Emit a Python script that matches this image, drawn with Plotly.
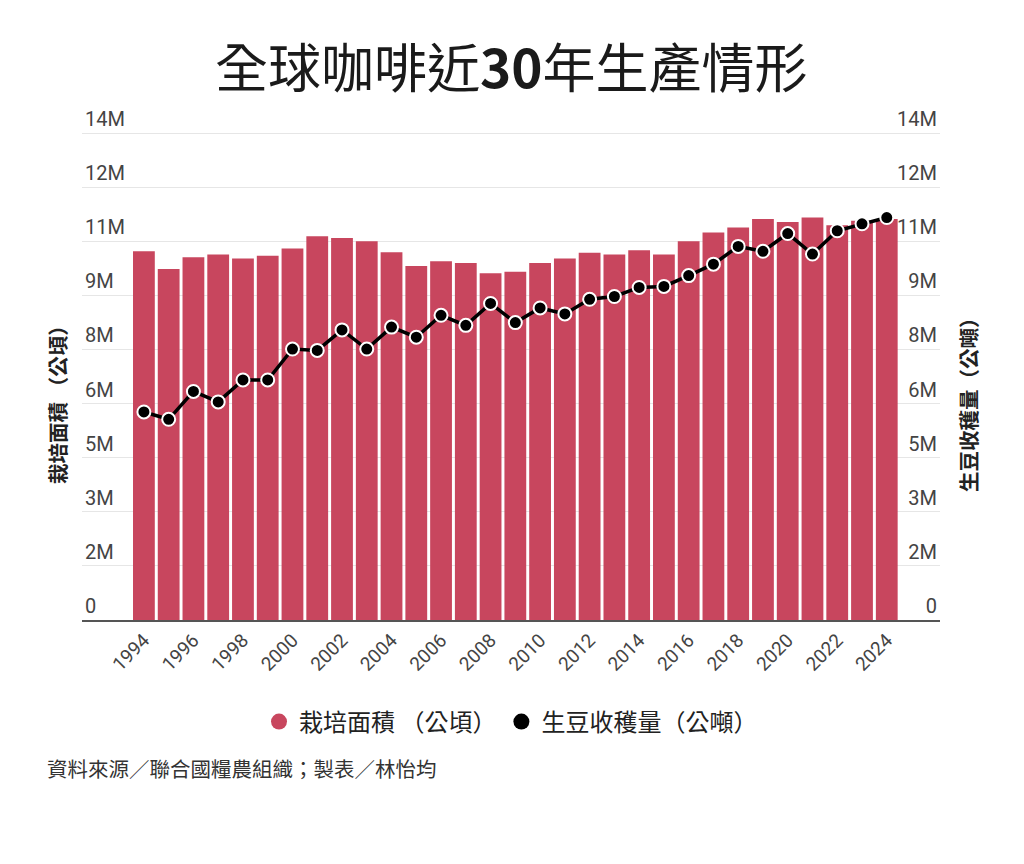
import plotly.graph_objects as go

years = list(range(1994, 2025))
area_ha = [10.60e6, 10.09e6, 10.43e6, 10.51e6, 10.39e6, 10.47e6, 10.68e6, 11.03e6, 10.98e6, 10.89e6,
           10.57e6, 10.18e6, 10.31e6, 10.26e6, 9.97e6, 10.01e6, 10.26e6, 10.39e6, 10.56e6, 10.51e6,
           10.63e6, 10.51e6, 10.89e6, 11.14e6, 11.28e6, 11.53e6, 11.44e6, 11.57e6, 11.35e6, 11.48e6,
           11.53e6]
production_t = [5.98e6, 5.77e6, 6.57e6, 6.27e6, 6.90e6, 6.90e6, 7.79e6, 7.75e6, 8.34e6, 7.79e6,
                8.42e6, 8.13e6, 8.76e6, 8.47e6, 9.10e6, 8.55e6, 8.97e6, 8.80e6, 9.22e6, 9.30e6,
                9.56e6, 9.59e6, 9.90e6, 10.23e6, 10.74e6, 10.60e6, 11.11e6, 10.52e6, 11.19e6, 11.39e6,
                11.57e6]
y_max = 14e6
y_ticktext = ["0", "2M", "3M", "5M", "6M", "8M", "9M", "11M", "12M", "14M"]
x_tickvals = list(range(1994, 2025, 2))

BAR = "#c8465e"
FONT = "Noto Sans CJK TC"
NUMFONT = "Roboto"
tickvals = [y_max * i / 9 for i in range(10)]

# layout geometry (pixels)
W, H = 1024, 864
PLOT_L, PLOT_R = 82, 940
PLOT_TOP, PLOT_BOTTOM = 88, 620
GRID_TOP = 133  # pixel of y_max gridline
PH = PLOT_BOTTOM - PLOT_TOP
PW = PLOT_R - PLOT_L
range_top = y_max * (PLOT_BOTTOM - PLOT_TOP) / (PLOT_BOTTOM - GRID_TOP)


def py(Y):
    return (PLOT_BOTTOM - Y) / PH


def px(X):
    return (X - PLOT_L) / PW


fig = go.Figure()
fig.add_trace(go.Bar(x=years, y=area_ha, marker=dict(color=BAR, line=dict(width=0)),
                     name="栽培面積 （公頃）", showlegend=False))
fig.add_trace(go.Scatter(x=years, y=production_t, yaxis="y2", mode="lines+markers",
                         line=dict(color="#000000", width=3.5),
                         marker=dict(color="#000000", size=13, line=dict(color="white", width=2)),
                         name="生豆收穫量（公噸）", showlegend=False))
# legend entries (circle symbols)
fig.add_trace(go.Scatter(x=[None], y=[None], mode="markers", name="栽培面積 （公頃）",
                         marker=dict(color=BAR, size=30, symbol="circle")))
fig.add_trace(go.Scatter(x=[None], y=[None], mode="markers", name="生豆收穫量（公噸）",
                         marker=dict(color="#000000", size=30, symbol="circle")))

ytick_font = dict(family=NUMFONT, size=20, color="#444444")
xtick_font = dict(family=NUMFONT, size=19, color="#444444")
fig.update_layout(
    width=W, height=H,
    margin=dict(l=PLOT_L, r=W - PLOT_R, t=PLOT_TOP, b=H - PLOT_BOTTOM, autoexpand=False),
    paper_bgcolor="white", plot_bgcolor="white",
    font=dict(family=FONT, color="#222222"),
    bargap=0.12,
    showlegend=True,
    legend=dict(orientation="h", x=0.5, xanchor="center", y=py(722), yanchor="middle",
                font=dict(family=FONT, size=24, color="#222222"), itemsizing="trace",
                traceorder="normal"),
    xaxis=dict(range=[1991.5, 2026.15], tickvals=x_tickvals, tickangle=-45,
               tickfont=xtick_font, showgrid=False, showline=True, linecolor="#555555",
               linewidth=1.5, ticks="", zeroline=False),
    yaxis=dict(range=[0, range_top], tickvals=tickvals, ticktext=y_ticktext,
               ticklabelposition="inside top", tickfont=ytick_font, showgrid=True,
               gridcolor="#e6e6e6", gridwidth=1, zeroline=False, ticks=""),
    yaxis2=dict(range=[0, range_top], tickvals=tickvals, ticktext=y_ticktext, overlaying="y",
                side="right", ticklabelposition="inside top", tickfont=ytick_font,
                showgrid=False, zeroline=False, ticks=""),
    annotations=[
        dict(text="全球咖啡近<b>30</b>年生產情形", xref="paper", yref="paper",
             x=0.5, y=py(65), xanchor="center", yanchor="middle", showarrow=False,
             font=dict(family=FONT, size=53, color="#1a1a1a")),
        dict(text="<b>栽培面積 （公頃）</b>", xref="paper", yref="paper", textangle=-90,
             x=px(57), y=py(400), xanchor="center", yanchor="middle", showarrow=False,
             font=dict(family=FONT, size=20.5, color="#222222")),
        dict(text="<b>生豆收穫量（公噸）</b>", xref="paper", yref="paper", textangle=-90,
             x=px(968), y=py(400), xanchor="center", yanchor="middle", showarrow=False,
             font=dict(family=FONT, size=20.5, color="#222222")),
        dict(text="資料來源／聯合國糧農組織；製表／林怡均", xref="paper", yref="paper",
             x=px(45), y=py(768), xanchor="left", yanchor="middle",
             showarrow=False, font=dict(family=FONT, size=20.5, color="#333333")),
    ],
)

fig.write_html("out.html", config={"displayModeBar": False},
               post_script="document.body.style.margin='0';")
